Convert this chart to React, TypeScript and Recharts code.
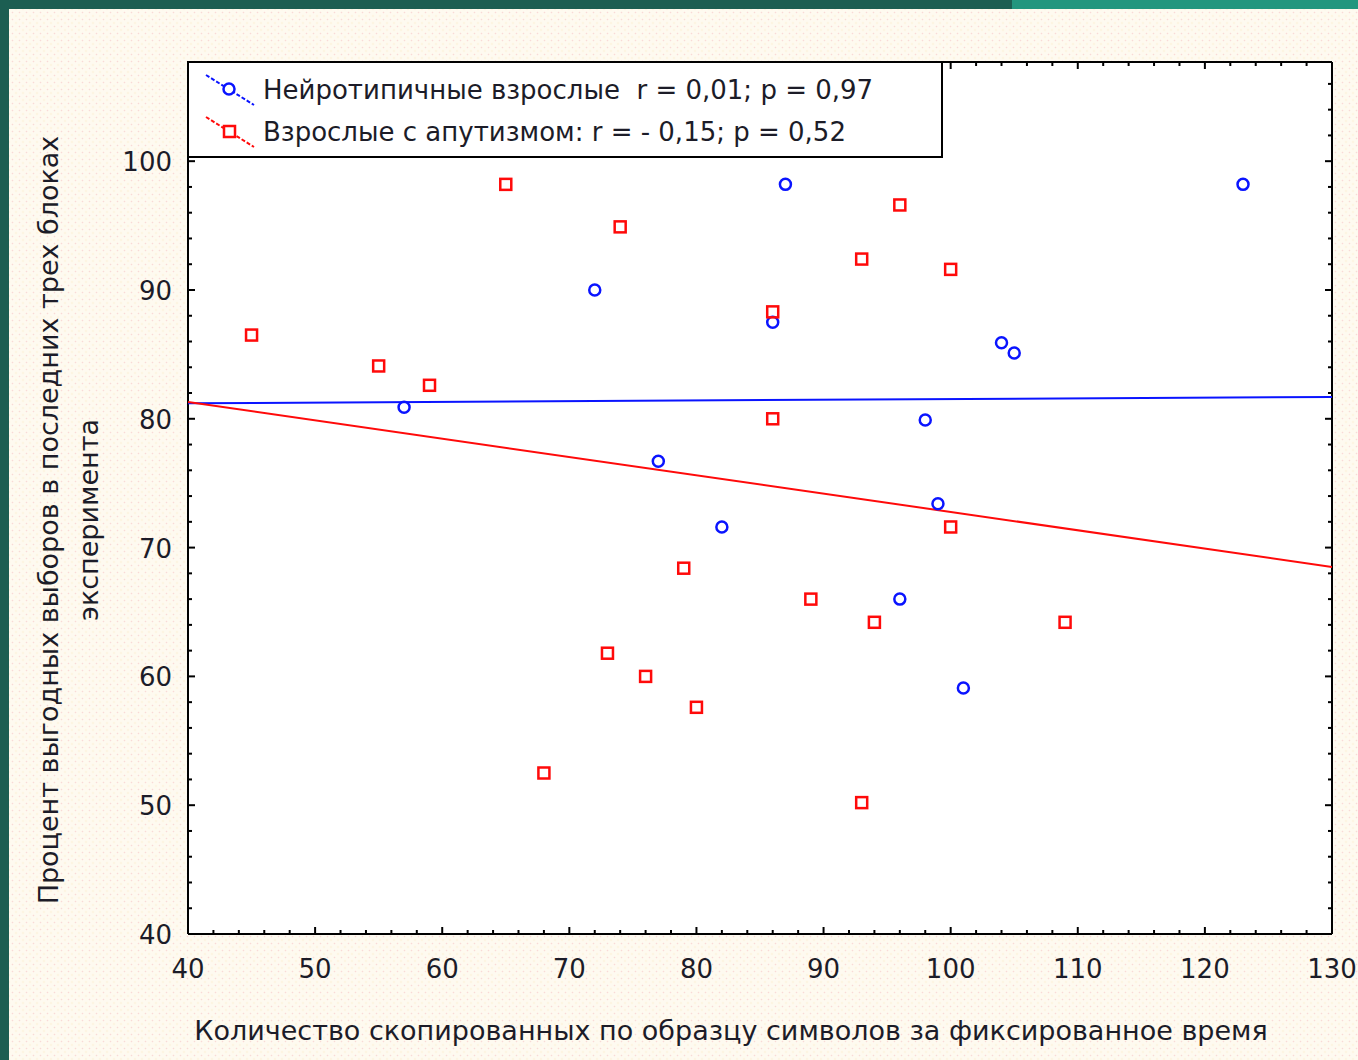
import React from 'react';
import { ScatterChart, Scatter, XAxis, YAxis, CartesianGrid } from 'recharts';

// tick labels
const X_LABELS = [40, 50, 60, 70, 80, 90, 100, 110, 120, 130];
const Y_LABELS = [40, 50, 60, 70, 80, 90, 100];

// neurotypical adults (blue circles)
const typicalX = [57, 72, 77, 82, 86, 87, 96, 98, 99, 101, 104, 105, 123];
const typicalY = [80.9, 90.0, 76.7, 71.6, 87.5, 98.2, 66.0, 79.9, 73.4, 59.1, 85.9, 85.1, 98.2];

// adults with autism (red squares)
const autismX = [45, 55, 59, 65, 68, 73, 74, 76, 79, 80, 86, 86, 89, 93, 93, 94, 96, 100, 100, 109];
const autismY = [86.5, 84.1, 82.6, 98.2, 52.5, 61.8, 94.9, 60.0, 68.4, 57.6, 88.3, 80.0, 66.0, 92.4, 50.2, 64.2, 96.6, 91.6, 71.6, 64.2];

// regression lines (ends)
const fitX = [40, 130];
const typicalFitY = [81.2, 81.7];
const autismFitY = [81.3, 68.5];

const LEGEND_TYPICAL = 'Нейротипичные взрослые  r = 0,01; p = 0,97';
const LEGEND_AUTISM = 'Взрослые с апутизмом: r = - 0,15; p = 0,52';
const X_TITLE = 'Количество скопированных по образцу символов за фиксированное время';
const Y_TITLE_1 = 'Процент выгодных выборов в последних трех блоках';
const Y_TITLE_2 = 'эксперимента';

const X_DOMAIN: [number, number] = [40, 130];
const Y_DOMAIN: [number, number] = [40, 107.7];

const BLUE = '#0a14ff';
const RED = '#ff0a0a';
const INK = '#1c1c28';
const FONT = '"DejaVu Sans", "Liberation Sans", Arial, sans-serif';

const steps = (from: number, to: number, step: number) => {
  const out: number[] = [];
  for (let v = from; v <= to + 1e-9; v += step) out.push(v);
  return out;
};
const X_TICKS = steps(40, 130, 2);
const Y_TICKS = steps(40, 106, 2);

const zip = (xs: number[], ys: number[]) => xs.map((x, i) => ({ x, y: ys[i] }));
const typicalData = zip(typicalX, typicalY);
const autismData = zip(autismX, autismY);
const typicalFit = zip(fitX, typicalFitY);
const autismFit = zip(fitX, autismFitY);

const tickLen = (v: number) => (v % 10 === 0 ? 7 : 4);

const BottomTick = (p: any) => {
  const v = p.payload.value;
  return (
    <g>
      <line x1={p.x} x2={p.x} y1={p.y} y2={p.y - tickLen(v)} stroke="#000" strokeWidth={2} />
      {X_LABELS.includes(v) && (
        <text x={p.x} y={p.y + 44} textAnchor="middle" fontSize={26} fontFamily={FONT} fill={INK}>
          {v}
        </text>
      )}
    </g>
  );
};

const TopTick = (p: any) => (
  <line x1={p.x} x2={p.x} y1={p.y} y2={p.y + tickLen(p.payload.value)} stroke="#000" strokeWidth={2} />
);

const LeftTick = (p: any) => {
  const v = p.payload.value;
  return (
    <g>
      <line x1={p.x} x2={p.x + tickLen(v)} y1={p.y} y2={p.y} stroke="#000" strokeWidth={2} />
      {Y_LABELS.includes(v) && (
        <text x={p.x - 16} y={p.y + 10} textAnchor="end" fontSize={26} fontFamily={FONT} fill={INK}>
          {v}
        </text>
      )}
    </g>
  );
};

const RightTick = (p: any) => (
  <line x1={p.x} x2={p.x - tickLen(p.payload.value)} y1={p.y} y2={p.y} stroke="#000" strokeWidth={2} />
);

const XTitle = (p: any) => {
  const vb = p.viewBox;
  return (
    <text x={vb.x + vb.width / 2 - 29} y={vb.y + 106} textAnchor="middle" fontSize={27} fontFamily={FONT} fill={INK}>
      {X_TITLE}
    </text>
  );
};

const YTitle = (p: any) => {
  const vb = p.viewBox;
  const cy = vb.y + vb.height / 2 + 22;
  return (
    <g fontSize={27} fontFamily={FONT} fill={INK}>
      <text x={48} y={cy} transform={`rotate(-90 48 ${cy})`} textAnchor="middle" dominantBaseline="central">
        {Y_TITLE_1}
      </text>
      <text x={88} y={cy} transform={`rotate(-90 88 ${cy})`} textAnchor="middle" dominantBaseline="central">
        {Y_TITLE_2}
      </text>
    </g>
  );
};

const Circle = (p: any) => <circle cx={p.cx} cy={p.cy} r={5.5} fill="none" stroke={BLUE} strokeWidth={2.5} />;
const Square = (p: any) => (
  <rect x={p.cx - 5.5} y={p.cy - 5.5} width={11} height={11} fill="none" stroke={RED} strokeWidth={2.5} />
);
const NoShape = () => <g />;

const LegendIcon = ({ color, square }: { color: string; square?: boolean }) => (
  <svg width={52} height={34} style={{ position: 'absolute', left: 15, top: -17 }}>
    <line x1={2} y1={2} x2={50} y2={32} stroke={color} strokeWidth={2} strokeDasharray="4 2" />
    {square ? (
      <rect x={20} y={11} width={11} height={11} fill="#fff" stroke={color} strokeWidth={2.5} />
    ) : (
      <circle cx={25} cy={16} r={5.5} fill="#fff" stroke={color} strokeWidth={2.5} />
    )}
  </svg>
);

const LegendBox = () => (
  <div
    style={{
      position: 'absolute',
      left: 187,
      top: 61,
      width: 752,
      height: 93,
      border: '2px solid #000',
      background: '#fff',
      fontFamily: FONT,
      fontSize: 26,
      color: INK,
    }}
  >
    {[
      { label: LEGEND_TYPICAL, color: BLUE, square: false, cy: 27 },
      { label: LEGEND_AUTISM, color: RED, square: true, cy: 69 },
    ].map((row) => (
      <div key={row.label} style={{ position: 'absolute', left: 0, top: row.cy, width: '100%' }}>
        <LegendIcon color={row.color} square={row.square} />
        <span style={{ position: 'absolute', left: 74, top: -16, whiteSpace: 'pre', lineHeight: '32px' }}>
          {row.label}
        </span>
      </div>
    ))}
  </div>
);

export default function App() {
  return (
    <div
      style={{
        position: 'absolute',
        left: 0,
        top: 0,
        width: 1358,
        height: 1060,
        background: '#1c5e52',
        overflow: 'hidden',
      }}
    >
      <div style={{ position: 'absolute', left: 1012, top: 0, right: 0, height: 9, background: '#22967e' }} />
      <div
        style={{
          position: 'absolute',
          left: 9,
          top: 9,
          right: 0,
          bottom: 0,
          backgroundColor: '#fefaf0',
          backgroundImage:
            'radial-gradient(circle, rgba(245,180,185,0.45) 0.7px, transparent 1.1px), radial-gradient(circle, rgba(245,215,150,0.4) 0.7px, transparent 1.1px)',
          backgroundSize: '7px 7px, 7px 7px',
          backgroundPosition: '0 0, 3.5px 3.5px',
        }}
      />
      <div style={{ position: 'absolute', left: 0, top: 0 }}>
        <ScatterChart width={1358} height={1060} margin={{ top: 61, right: 25, bottom: 0, left: 0 }}>
          <CartesianGrid xAxisId="b" yAxisId="l" fill="#fff" horizontal={false} vertical={false} />
          <XAxis
            xAxisId="b"
            dataKey="x"
            type="number"
            domain={X_DOMAIN}
            ticks={X_TICKS}
            interval={0}
            allowDataOverflow
            height={126}
            tickSize={0}
            tickMargin={0}
            tickLine={false}
            tick={BottomTick}
            axisLine={{ stroke: '#000', strokeWidth: 2 }}
            label={<XTitle />}
          />
          <XAxis
            xAxisId="t"
            dataKey="x"
            orientation="top"
            type="number"
            domain={X_DOMAIN}
            ticks={X_TICKS}
            interval={0}
            allowDataOverflow
            height={1}
            tickSize={0}
            tickMargin={0}
            tickLine={false}
            tick={TopTick}
            axisLine={{ stroke: '#000', strokeWidth: 2 }}
          />
          <YAxis
            yAxisId="l"
            dataKey="y"
            type="number"
            domain={Y_DOMAIN}
            ticks={Y_TICKS}
            interval={0}
            allowDataOverflow
            width={188}
            tickSize={0}
            tickMargin={0}
            tickLine={false}
            tick={LeftTick}
            axisLine={{ stroke: '#000', strokeWidth: 2 }}
            label={<YTitle />}
          />
          <YAxis
            yAxisId="r"
            dataKey="y"
            orientation="right"
            type="number"
            domain={Y_DOMAIN}
            ticks={Y_TICKS}
            interval={0}
            allowDataOverflow
            width={1}
            tickSize={0}
            tickMargin={0}
            tickLine={false}
            tick={RightTick}
            axisLine={{ stroke: '#000', strokeWidth: 2 }}
          />
          {/* invisible series so the top/right frame axes are drawn */}
          <Scatter xAxisId="t" yAxisId="r" data={typicalFit} shape={NoShape} isAnimationActive={false} />
          <Scatter
            xAxisId="b"
            yAxisId="l"
            data={typicalFit}
            line={{ stroke: BLUE, strokeWidth: 2 }}
            shape={NoShape}
            isAnimationActive={false}
          />
          <Scatter
            xAxisId="b"
            yAxisId="l"
            data={autismFit}
            line={{ stroke: RED, strokeWidth: 2 }}
            shape={NoShape}
            isAnimationActive={false}
          />
          <Scatter xAxisId="b" yAxisId="l" data={typicalData} shape={Circle} isAnimationActive={false} />
          <Scatter xAxisId="b" yAxisId="l" data={autismData} shape={Square} isAnimationActive={false} />
        </ScatterChart>
      </div>
      <LegendBox />
    </div>
  );
}
